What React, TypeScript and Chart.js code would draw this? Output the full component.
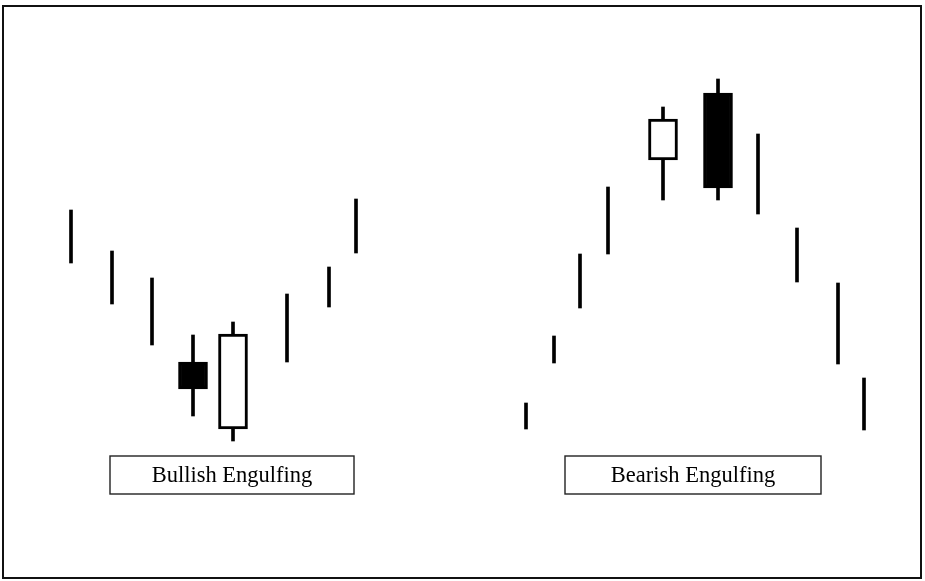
import React, { useEffect, useRef } from "react";
import { Chart, registerables } from "chart.js";

Chart.register(...registerables);

// Trading sessions (horizontal position) and prices for each bar
const days = [7.1, 11.2, 15.2, 19.3, 23.3, 28.7, 32.9, 35.6, 52.6, 55.4, 58.0, 60.8, 66.3, 71.8, 75.8, 79.7, 83.8, 86.4];
const highs = [74.2, 66.0, 60.6, 49.2, 51.8, 57.4, 62.8, 76.4, 35.6, 49.0, 65.4, 78.8, 94.8, 100.4, 89.4, 70.6, 59.6, 40.6];
const lows = [63.6, 55.4, 47.2, 33.0, 28.0, 43.8, 54.8, 65.6, 30.4, 43.6, 54.6, 65.4, 76.2, 76.2, 73.4, 59.8, 43.4, 30.2];
const opens: (number | null)[] = [null, null, null, 43.8, 30.4, null, null, null, null, null, null, null, 84.2, 97.6, null, null, null, null];
const closes: (number | null)[] = [null, null, null, 38.4, 49.4, null, null, null, null, null, null, null, 92.4, 78.6, null, null, null, null];

// Pattern labels
const labelTexts = ["Bullish Engulfing", "Bearish Engulfing"];
const labelDays = [23.2, 69.3];
const labelPrices = [21.2, 21.2];

const X_MAX = 92.5;
const Y_MAX = 116.2;

export default function App() {
  const ref = useRef<HTMLCanvasElement | null>(null);

  useEffect(() => {
    if (!ref.current) return;

    const wickData = days.map((d, i) => ({ x: d, y: [lows[i], highs[i]] }));
    const bodyIdx = days.map((_, i) => i).filter((i) => opens[i] !== null);
    const bodyData = bodyIdx.map((i) => ({ x: days[i], y: [opens[i] as number, closes[i] as number] }));
    const bodyColors = bodyIdx.map((i) => ((closes[i] as number) < (opens[i] as number) ? "#000000" : "#ffffff"));

    const decor = {
      id: "decor",
      afterDraw(chart: any) {
        const ctx = chart.ctx as CanvasRenderingContext2D;
        const xs = chart.scales.x;
        const ys = chart.scales.y;
        ctx.save();
        // outer frame
        ctx.strokeStyle = "#111";
        ctx.lineWidth = 2;
        ctx.strokeRect(3, 6, 918, 572);
        // label boxes
        ctx.font = "22.5px 'Liberation Serif'";
        ctx.textAlign = "center";
        ctx.textBaseline = "middle";
        labelTexts.forEach((t, i) => {
          const cx = xs.getPixelForValue(labelDays[i]);
          const cy = ys.getPixelForValue(labelPrices[i]);
          const w = i === 0 ? 244 : 256;
          const h = 38;
          ctx.fillStyle = "#fff";
          ctx.fillRect(cx - w / 2, cy - h / 2, w, h);
          ctx.lineWidth = 1.4;
          ctx.strokeStyle = "#222";
          ctx.strokeRect(cx - w / 2, cy - h / 2, w, h);
          ctx.fillStyle = "#000";
          ctx.fillText(t, cx, cy + 1);
        });
        ctx.restore();
      },
    };

    const chart = new Chart(ref.current, {
      type: "bar",
      data: {
        datasets: [
          {
            label: "range",
            data: wickData as any,
            backgroundColor: "#000000",
            borderWidth: 0,
            barThickness: 3,
            grouped: false,
            order: 2,
          } as any,
          {
            label: "body",
            data: bodyData as any,
            backgroundColor: bodyColors,
            borderColor: "#000000",
            borderWidth: 3,
            borderSkipped: false,
            barThickness: 29,
            grouped: false,
            order: 1,
          } as any,
        ],
      },
      options: {
        responsive: false,
        animation: false,
        layout: { padding: 0 },
        scales: {
          x: { type: "linear", min: 0, max: X_MAX, display: false, offset: false },
          y: { type: "linear", min: 0, max: Y_MAX, display: false, beginAtZero: true },
        },
        plugins: {
          legend: { display: false },
          tooltip: { enabled: false },
        },
      },
      plugins: [decor],
    });

    return () => chart.destroy();
  }, []);

  return (
    <div style={{ position: "absolute", left: 0, top: 0, width: 925, height: 581, background: "#fff" }}>
      <canvas ref={ref} width={925} height={581} style={{ width: 925, height: 581, display: "block" }} />
    </div>
  );
}
